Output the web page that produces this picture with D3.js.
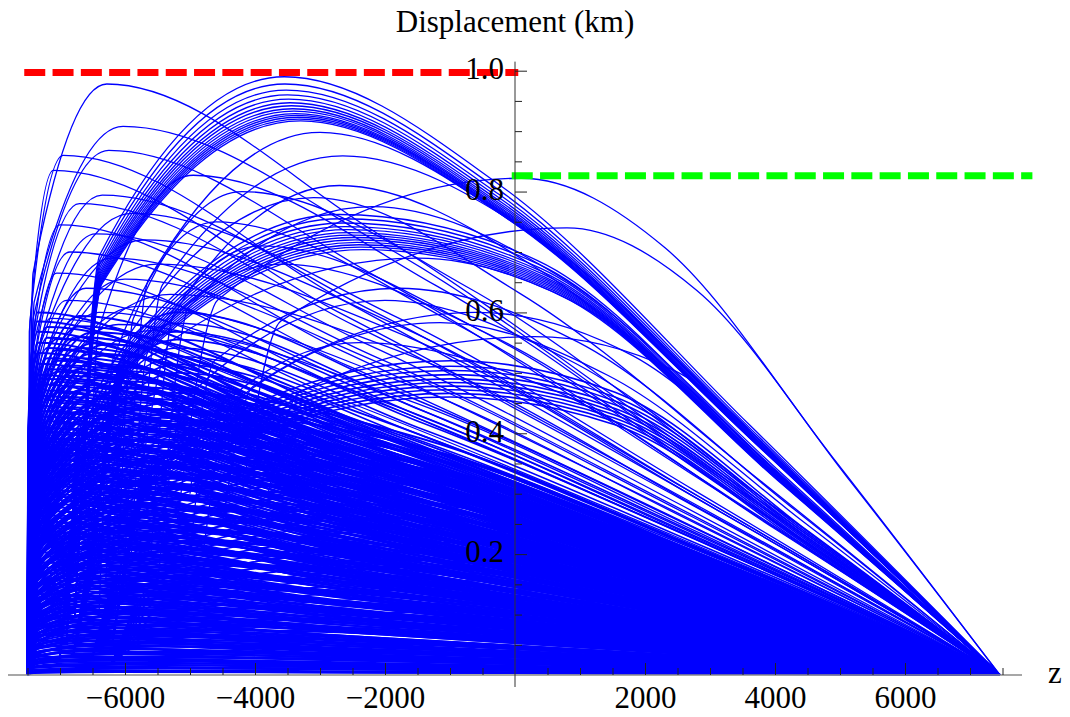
<!DOCTYPE html>
<html>
<head>
<meta charset="utf-8">
<script src="https://cdn.jsdelivr.net/npm/d3@7"></script>
<style>
  body { margin: 0; background: #fff; }
  text { font-family: "Liberation Serif", "Times New Roman", serif; }
</style>
</head>
<body>
<script>
// ---- axis data ----
const zEnd = 7460;       // every curve lands here
const zEdge = -7500;     // left edge of the domain
const xMajor = [-6000, -4000, -2000, 2000, 4000, 6000];
const xMinor = [-7500, -7000, -6500, -5500, -5000, -4500, -3500, -3000, -2500, -1500, -1000, -500,
                500, 1000, 1500, 2500, 3000, 3500, 4500, 5000, 5500, 6500, 7000, 7500];
const yMajor = [0.2, 0.4, 0.6, 0.8, 1.0];
const yMinor = [0.05, 0.1, 0.15, 0.25, 0.3, 0.35, 0.45, 0.5, 0.55, 0.65, 0.7, 0.75, 0.85, 0.9, 0.95];

// reference levels [zFrom, zTo, level]
const redLevel = [-7550, 50, 0.997];
const greenLevel = [-50, 7960, 0.826];

// ---- curve data ----
// tall arches leaving the left edge: [zPeak, peak, fall]
const edgeArches = [
  [-6280, 0.978, 0.75], [-6030, 0.908, 0.78], [-6950, 0.860, 0.72], [-6250, 0.868, 0.76],
  [-7100, 0.835, 0.72], [-6350, 0.794, 0.76], [-6700, 0.780, 0.74], [-5900, 0.764, 0.78],
  [-7000, 0.745, 0.72], [-6450, 0.730, 0.75], [-5700, 0.720, 0.80], [-6850, 0.700, 0.73],
  [-6200, 0.690, 0.76], [-5500, 0.680, 0.82], [-7050, 0.665, 0.72], [-6000, 0.655, 0.78],
  [-6600, 0.640, 0.75], [-5300, 0.630, 0.83], [-6900, 0.620, 0.73], [-5800, 0.610, 0.80],
  [-6400, 0.600, 0.76], [-7150, 0.590, 0.72], [-6100, 0.580, 0.78], [-5600, 0.570, 0.80],
  [-6750, 0.560, 0.74]
];

// dense bundles leaving the left edge; each bundle uses one of the peak lists
const edgeBundleZ = [-7350, -7200, -7050, -6900, -6700, -6500, -6300, -6100, -5850, -5600, -5300, -5000];
const edgeBundleFall = [0.66, 0.70, 0.68, 0.73, 0.71, 0.76, 0.74, 0.78, 0.80, 0.79, 0.84, 0.86];
const edgeBundleList = [0, 1, 2, 3, 6, 7, 8, 9, 4, 5, 10, 11];
const edgeBundlePeaks = [
  [0.015, 0.03, 0.048, 0.066, 0.081, 0.099, 0.118, 0.134, 0.151, 0.169, 0.186, 0.203, 0.221, 0.238, 0.254, 0.272, 0.291, 0.307,
   0.323, 0.342, 0.358, 0.377, 0.392, 0.41, 0.428, 0.445, 0.462, 0.481, 0.497, 0.515, 0.533, 0.55, 0.568, 0.585, 0.6],
  [0.022, 0.041, 0.057, 0.074, 0.093, 0.109, 0.126, 0.145, 0.16, 0.178, 0.196, 0.212, 0.23, 0.247, 0.264, 0.283, 0.299,
   0.316, 0.334, 0.35, 0.369, 0.386, 0.402, 0.42, 0.437, 0.455, 0.471, 0.49, 0.506, 0.524, 0.541, 0.558, 0.576],
  [0.018, 0.036, 0.052, 0.071, 0.087, 0.105, 0.122, 0.14, 0.156, 0.174, 0.191, 0.209, 0.226, 0.243, 0.26, 0.277, 0.295,
   0.312, 0.329, 0.347, 0.364, 0.381, 0.398, 0.416, 0.433, 0.45, 0.467, 0.485, 0.502, 0.52, 0.538, 0.556],
  [0.026, 0.044, 0.061, 0.079, 0.097, 0.113, 0.131, 0.149, 0.165, 0.183, 0.2, 0.218, 0.235, 0.252, 0.27, 0.287, 0.304,
   0.322, 0.339, 0.356, 0.374, 0.391, 0.408, 0.426, 0.443, 0.46, 0.478, 0.495, 0.512],
  [0.02, 0.038, 0.056, 0.073, 0.091, 0.108, 0.126, 0.143, 0.161, 0.178, 0.196, 0.213, 0.231, 0.248, 0.266, 0.283, 0.301,
   0.318, 0.336, 0.353, 0.371, 0.388, 0.406, 0.423, 0.441, 0.458, 0.476],
  [0.03, 0.048, 0.066, 0.084, 0.102, 0.12, 0.138, 0.156, 0.174, 0.192, 0.21, 0.228, 0.246, 0.264, 0.282, 0.3, 0.318,
   0.336, 0.354, 0.372, 0.39, 0.408, 0.426, 0.44],
  [0.006, 0.024, 0.039, 0.057, 0.074, 0.09, 0.108, 0.126, 0.143, 0.16, 0.177, 0.195, 0.212, 0.229, 0.246, 0.263, 0.281, 0.299,
   0.315, 0.332, 0.35, 0.367, 0.385, 0.401, 0.419, 0.436, 0.454, 0.471, 0.489, 0.506, 0.524, 0.541, 0.559, 0.577, 0.594],
  [0.012, 0.031, 0.049, 0.066, 0.083, 0.101, 0.118, 0.135, 0.152, 0.169, 0.187, 0.204, 0.221, 0.239, 0.256, 0.273, 0.29,
   0.308, 0.325, 0.342, 0.36, 0.377, 0.394, 0.411, 0.429, 0.446, 0.463, 0.48, 0.498, 0.515, 0.532, 0.549, 0.567],
  [0.008, 0.027, 0.044, 0.062, 0.079, 0.096, 0.113, 0.131, 0.148, 0.165, 0.182, 0.2, 0.217, 0.234, 0.251, 0.269, 0.286,
   0.303, 0.32, 0.338, 0.355, 0.372, 0.39, 0.407, 0.424, 0.441, 0.459, 0.476, 0.493, 0.511, 0.529, 0.547],
  [0.005, 0.017, 0.035, 0.052, 0.07, 0.088, 0.105, 0.122, 0.14, 0.157, 0.174, 0.192, 0.209, 0.226, 0.244, 0.261, 0.278,
   0.296, 0.313, 0.33, 0.348, 0.365, 0.382, 0.4, 0.417, 0.434, 0.452, 0.469, 0.486, 0.503],
  [0.011, 0.029, 0.047, 0.064, 0.082, 0.1, 0.117, 0.134, 0.152, 0.169, 0.187, 0.204, 0.222, 0.24, 0.257, 0.274, 0.292,
   0.31, 0.327, 0.344, 0.362, 0.38, 0.397, 0.414, 0.432, 0.45, 0.467],
  [0.012, 0.039, 0.057, 0.075, 0.093, 0.111, 0.129, 0.147, 0.165, 0.183, 0.201, 0.219, 0.237, 0.255, 0.273, 0.291, 0.309,
   0.327, 0.345, 0.363, 0.381, 0.399, 0.417, 0.432]
];

// bundles starting inside the range: [zStart, yStart, zPeak, fall]
const innerBundles = [
  [-7000, 0.03, -4600, 0.80],
  [-6800, 0.03, -3200, 0.85],
  [-6500, 0.03, -2000, 0.88],
  [-6200, 0.02, -800, 0.90],
  [-6200, 0.05, -1000, 0.90],
  [-6900, 0.05, -5200, 0.75]
];
const innerBundlePeaks = [
  [0.33, 0.345, 0.358, 0.37, 0.384, 0.397, 0.41, 0.423, 0.437, 0.45],
  [0.26, 0.271, 0.283, 0.294, 0.305, 0.316, 0.328, 0.339, 0.35, 0.362],
  [0.18, 0.191, 0.203, 0.214, 0.226, 0.237, 0.249, 0.26, 0.272, 0.283],
  [0.08, 0.093, 0.105, 0.118, 0.13, 0.143, 0.156, 0.168, 0.181, 0.194, 0.206, 0.219],
  [0.46, 0.466, 0.472, 0.478, 0.484, 0.49, 0.497, 0.504, 0.511, 0.52],
  [0.5, 0.514, 0.527, 0.541, 0.555, 0.568, 0.582, 0.6]
];

// the top bundle (near the red level): [zPeak, peak]
const topBundle = [
  [-3550, 0.99], [-3540, 0.978], [-3520, 0.968], [-3500, 0.96], [-3480, 0.953], [-3460, 0.947], [-3440, 0.942],
  [-3420, 0.937], [-3400, 0.933], [-3380, 0.929], [-3360, 0.926], [-3340, 0.923], [-3320, 0.92], [-3300, 0.917]
];
// the second bundle: [zPeak, peak]
const midBundle = [
  [-2700, 0.762], [-2670, 0.755], [-2640, 0.748], [-2610, 0.742], [-2580, 0.737], [-2550, 0.732], [-2520, 0.728],
  [-2490, 0.724], [-2460, 0.72], [-2430, 0.716], [-2400, 0.712], [-2370, 0.708], [-2340, 0.704]
];

// single curves: [zStart, yStart, zPeak, peak, fall]
const singles = [
  [-6000, 0.2, -3000, 0.898, 0.82], [-5800, 0.25, -2650, 0.859, 0.84], [-5600, 0.2, -2700, 0.81, 0.83],
  [-6300, 0.15, -3100, 0.79, 0.80], [-5400, 0.3, -2200, 0.775, 0.85], [-6600, 0.1, -4950, 0.827, 0.78],
  [-6100, 0.2, -4200, 0.80, 0.80], [-5200, 0.25, 100, 0.822, 0.86], [-4800, 0.2, -1150, 0.583, 0.85],
  [-5000, 0.3, -1800, 0.64, 0.86], [-5500, 0.15, -2000, 0.62, 0.84], [-4500, 0.25, -600, 0.60, 0.88],
  [-6200, 0.2, -3600, 0.68, 0.82], [-5800, 0.3, -1500, 0.69, 0.87], [-4200, 0.3, 800, 0.74, 0.86],
  [-6400, 0.1, -4600, 0.75, 0.78], [-5900, 0.2, -3900, 0.71, 0.80], [-3800, 0.3, 300, 0.56, 0.90],
  [-5000, 0.2, -2400, 0.55, 0.86]
];

// shape: where the rise bends [share of run, share of height]
const edgeRise = [0.07, 0.68];
const innerRise = [0.12, 0.65];
// points on the way down: share of the run from peak to end
const fallAt = [0.3, 0.65];
const fallTail = 0.51;

// ---- build ----
const width = 1070, height = 717;
const x = d3.scaleLinear().domain([-7800, 7800]).range([8, 1022]);
const y = d3.scaleLinear().domain([0, 1]).range([675, 70.7]);

const svg = d3.select("body").append("svg")
  .attr("width", width)
  .attr("height", height);

let curves = [];
edgeBundleZ.forEach((zp, i) => {
  edgeBundlePeaks[edgeBundleList[i]].forEach(p =>
    curves.push({ z0: zEdge, y0: 0, zp: zp, yp: p, fall: edgeBundleFall[i], rise: edgeRise, w: 2 }));
});
innerBundlePeaks.forEach((list, i) => {
  let b = innerBundles[i];
  list.forEach(p => curves.push({ z0: b[0], y0: b[1], zp: b[2], yp: p, fall: b[3], rise: innerRise, w: 1.6 }));
});
edgeArches.forEach(d => curves.push({ z0: zEdge, y0: 0, zp: d[0], yp: d[1], fall: d[2], rise: edgeRise, w: 1.3 }));
topBundle.forEach(d => curves.push({ z0: -6770, y0: 0.1, zp: d[0], yp: d[1], fall: 0.82, rise: [0.12, 0.67], w: 1.3 }));
midBundle.forEach(d => curves.push({ z0: -6500, y0: 0.2, zp: d[0], yp: d[1], fall: 0.9, rise: [0.13, 0.6], w: 1.3 }));
singles.forEach(d => curves.push({ z0: d[0], y0: d[1], zp: d[2], yp: d[3], fall: d[4], rise: innerRise, w: 1.3 }));

// control points handed to the line generator
function controlPoints(c) {
  let run = zEnd - c.zp;
  return [
    [c.z0, c.y0],
    [c.z0 + c.rise[0] * (c.zp - c.z0), c.y0 + c.rise[1] * (c.yp - c.y0)],
    [c.zp, c.yp],
    [c.zp + fallAt[0] * run, c.fall * c.yp],
    [c.zp + fallAt[1] * run, fallTail * c.fall * c.yp],
    [zEnd, 0]
  ];
}

const line = d3.line()
  .x(d => x(d[0]))
  .y(d => y(d[1]))
  .curve(d3.curveMonotoneX);

svg.append("g")
  .selectAll("path")
  .data(curves)
  .enter().append("path")
  .attr("d", d => line(controlPoints(d)))
  .attr("fill", "none")
  .attr("stroke", "#0000ff")
  .attr("stroke-width", d => d.w);

// dashed reference levels
[[redLevel, "#ff0000"], [greenLevel, "#00ff00"]].forEach(([r, col]) => {
  svg.append("line")
    .attr("x1", x(r[0])).attr("x2", x(r[1]))
    .attr("y1", y(r[2])).attr("y2", y(r[2]))
    .attr("stroke", col)
    .attr("stroke-width", 7)
    .attr("stroke-dasharray", "21 7.3");
});

// axis lines
svg.append("line")
  .attr("x1", x(-7800)).attr("x2", x(7800))
  .attr("y1", y(0)).attr("y2", y(0))
  .attr("stroke", "#8a8a8a").attr("stroke-width", 1.5);
svg.append("line")
  .attr("x1", x(0)).attr("x2", x(0))
  .attr("y1", y(1.015)).attr("y2", y(0) + 12)
  .attr("stroke", "#333").attr("stroke-width", 1);

// x ticks
let xAxis = svg.append("g").attr("transform", `translate(0,${y(0)})`);
xAxis.call(d3.axisBottom(x).tickValues(xMinor).tickSize(-7).tickFormat(""));
xAxis.append("g").call(d3.axisBottom(x).tickValues(xMajor).tickSize(-12).tickPadding(0).tickFormat(d3.format("d")));
xAxis.selectAll(".domain").remove();
xAxis.selectAll("line").attr("stroke", "#222");
xAxis.selectAll("text")
  .attr("y", 33).attr("dy", 0)
  .attr("font-size", 31)
  .attr("font-family", "Liberation Serif, serif")
  .attr("fill", "#000");

// y ticks
let yAxis = svg.append("g").attr("transform", `translate(${x(0)},0)`);
yAxis.call(d3.axisLeft(y).tickValues(yMinor).tickSize(-7).tickFormat(""));
yAxis.append("g").call(d3.axisLeft(y).tickValues(yMajor).tickSize(-12).tickPadding(11).tickFormat(d3.format(".1f")));
yAxis.selectAll(".domain").remove();
yAxis.selectAll("line").attr("stroke", "#222");
yAxis.selectAll("text")
  .attr("dy", "0.25em")
  .attr("font-size", 31)
  .attr("font-family", "Liberation Serif, serif")
  .attr("fill", "#000");

// titles
svg.append("text")
  .attr("x", x(0)).attr("y", 32)
  .attr("text-anchor", "middle")
  .attr("font-size", 31)
  .text("Displacement (km)");
svg.append("text")
  .attr("x", 1048).attr("y", 683)
  .attr("font-size", 31)
  .text("z");
</script>
</body>
</html>
